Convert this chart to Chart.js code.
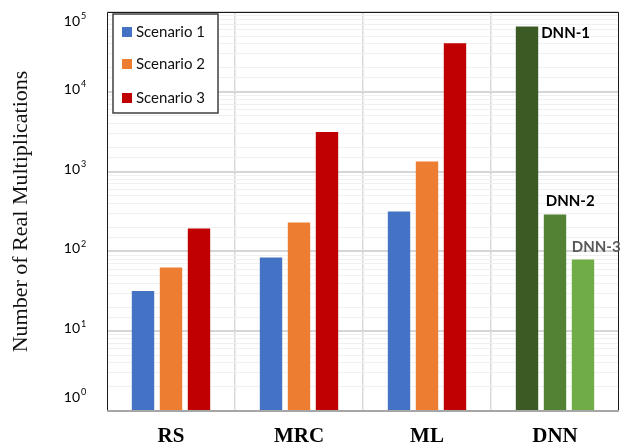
<!DOCTYPE html>
<html>
<head>
<meta charset="utf-8">
<script src="https://cdn.jsdelivr.net/npm/chart.js@4.4.1/dist/chart.umd.min.js"></script>
<style>
html,body{margin:0;padding:0;background:#fff;}
#wrap{width:625px;height:444px;position:relative;}
</style>
</head>
<body>
<div id="wrap"><canvas id="c" width="625" height="444"></canvas></div>
<script>
const categories = ['RS', 'MRC', 'ML', 'DNN'];
const seriesNames = ['Scenario 1', 'Scenario 2', 'Scenario 3'];
const scenario1 = [32, 84, 316];
const scenario2 = [63, 230, 1340];
const scenario3 = [194, 3135, 40600];
const dnnNames = ['DNN-1', 'DNN-2', 'DNN-3'];
const dnnValues = [65800, 290, 79];
const yTickExponents = [0, 1, 2, 3, 4, 5];
const yTitle = 'Number of Real Multiplications';

const scenarioColors = ['#4472C4', '#ED7D31', '#C00000'];
const dnnColors = ['#3B5A24', '#548235', '#70AD47'];
const scenarioValues = [scenario1, scenario2, scenario3];

const datasets = scenarioValues.map((vals, i) => ({
  label: seriesNames[i],
  data: vals.concat([dnnValues[i]]),
  backgroundColor: vals.map(() => scenarioColors[i]).concat([dnnColors[i]]),
  borderWidth: 0,
  categoryPercentage: 0.656,
  barPercentage: 0.8
}));

const overlay = {
  id: 'overlay',
  afterDraw(chart) {
    const ctx = chart.ctx;
    const a = chart.chartArea;
    const y = chart.scales.y;
    ctx.save();
    // frame
    ctx.strokeStyle = '#1a1a1a';
    ctx.lineWidth = 1;
    ctx.beginPath();
    ctx.moveTo(a.left + 0.5, a.bottom);
    ctx.lineTo(a.left + 0.5, a.top + 0.5);
    ctx.lineTo(a.right - 0.5, a.top + 0.5);
    ctx.lineTo(a.right - 0.5, a.bottom);
    ctx.stroke();
    ctx.strokeStyle = '#a6a6a6';
    ctx.lineWidth = 2;
    ctx.beginPath();
    ctx.moveTo(a.left, a.bottom);
    ctx.lineTo(a.right, a.bottom);
    ctx.stroke();

    // y tick labels 10^n
    yTickExponents.forEach(e => {
      let py = y.getPixelForValue(Math.pow(10, e)) - 2.5;
      py = Math.min(Math.max(py, a.top + 9.5), a.bottom - 14);
      ctx.fillStyle = '#000';
      ctx.textBaseline = 'middle';
      ctx.font = '14px Lato';
      ctx.textAlign = 'right';
      ctx.fillText('10', 80, py);
      ctx.font = '9px Lato';
      ctx.textAlign = 'left';
      ctx.fillText(String(e), 81, py - 5);
    });

    // legend
    const lx = 113, ly = 14, lw = 105, lh = 99;
    ctx.fillStyle = '#fff';
    ctx.fillRect(lx, ly, lw, lh);
    ctx.strokeStyle = '#404040';
    ctx.lineWidth = 1.5;
    ctx.strokeRect(lx, ly, lw, lh);
    const rowY = [32, 64, 98];
    seriesNames.forEach((n, i) => {
      ctx.fillStyle = scenarioColors[i];
      ctx.fillRect(122, rowY[i] - 5, 10, 10);
      ctx.fillStyle = '#111';
      ctx.font = '15px Lato';
      ctx.textAlign = 'left';
      ctx.textBaseline = 'middle';
      ctx.fillText(n, 136, rowY[i]);
    });

    // DNN labels
    const bars = [0, 1, 2].map(i => chart.getDatasetMeta(i).data[3]);
    ctx.font = 'bold 15px Lato';
    ctx.textBaseline = 'middle';
    ctx.textAlign = 'left';
    const b1 = bars[0];
    ctx.fillStyle = '#000';
    ctx.fillText(dnnNames[0], b1.x + b1.width / 2 + 3, b1.y + 7);
    const b2 = bars[1];
    ctx.fillText(dnnNames[1], b2.x - b2.width / 2 + 2, b2.y - 13);
    const b3 = bars[2];
    ctx.fillStyle = '#595959';
    ctx.fillText(dnnNames[2], b3.x - b3.width / 2, b3.y - 12);
    ctx.restore();
  }
};

new Chart(document.getElementById('c'), {
  type: 'bar',
  data: { labels: categories, datasets },
  options: {
    responsive: false,
    animation: false,
    devicePixelRatio: 1,
    layout: { padding: { top: 12, right: 6, left: 0, bottom: 0 } },
    plugins: { legend: { display: false }, tooltip: { enabled: false } },
    scales: {
      x: {
        offset: true,
        grid: {
          offset: true,
          drawTicks: false,
          lineWidth: 1.5,
          color: (c) => (c.type !== 'tick' || c.index === 0 || c.index >= categories.length) ? 'rgba(0,0,0,0)' : '#d9d9d9'
        },
        border: { display: false },
        ticks: {
          color: '#000',
          padding: 13,
          font: { family: 'Liberation Serif', weight: 'bold', size: 21 }
        },
        afterFit(s) { s.height = 33; }
      },
      y: {
        type: 'logarithmic',
        min: 1,
        max: 100000,
        border: { display: false },
        grid: {
          drawTicks: false,
          color: (c) => {
            const v = c.tick ? c.tick.value : 1;
            const l = Math.log10(v);
            return Math.abs(l - Math.round(l)) < 1e-9 ? '#d6d6d6' : '#f0f0f0';
          },
          lineWidth: (c) => {
            const v = c.tick ? c.tick.value : 1;
            const l = Math.log10(v);
            return Math.abs(l - Math.round(l)) < 1e-9 ? 2 : 1;
          }
        },
        ticks: { display: false },
        title: {
          display: true,
          text: yTitle,
          color: '#111',
          font: { family: 'Liberation Serif', size: 22, weight: 'normal' },
          padding: { top: 8, bottom: 0 }
        },
        afterFit(s) { s.width = 107; }
      }
    }
  },
  plugins: [overlay]
});
</script>
</body>
</html>
